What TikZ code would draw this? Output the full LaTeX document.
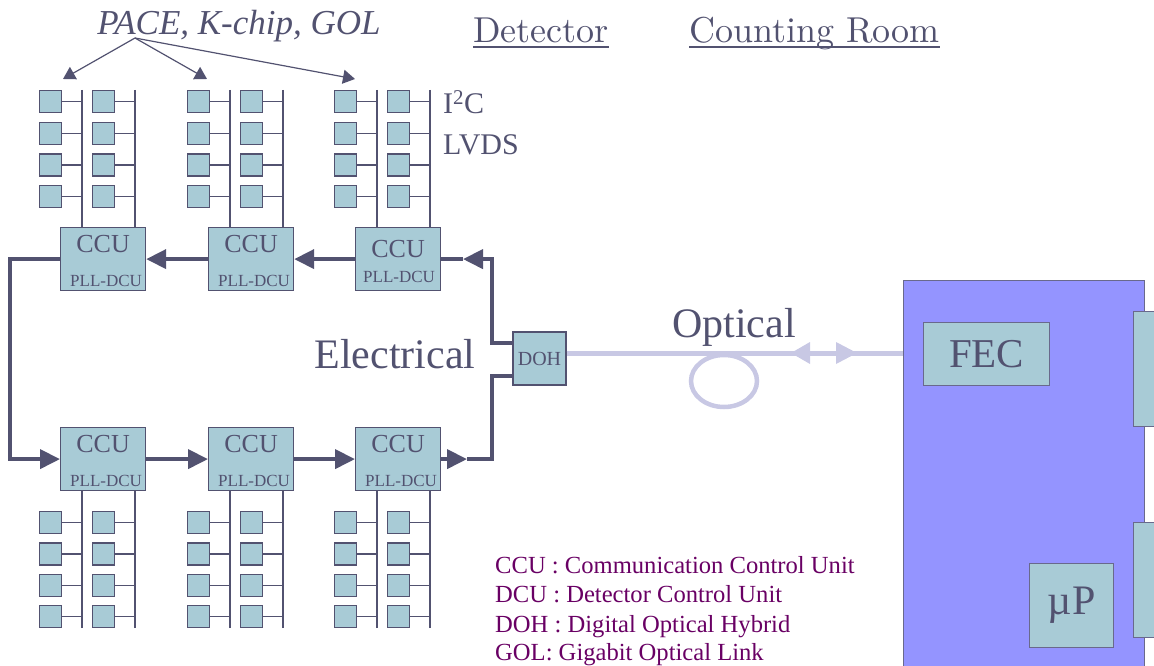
\documentclass[tikz,border=0pt]{standalone}
\usepackage{fontspec}
\newfontfamily\tnr{Liberation Serif}
\newfontfamily\lmten{lmroman10-regular.otf}
\usetikzlibrary{arrows.meta}
\definecolor{ink}{RGB}{82,82,112}
\definecolor{boxfill}{RGB}{168,203,214}
\definecolor{optic}{RGB}{200,200,228}
\definecolor{cratefill}{RGB}{148,148,255}
\definecolor{cratedraw}{RGB}{105,105,140}
\definecolor{legend}{RGB}{105,0,100}
\newcommand{\fsz}[1]{\fontsize{#1}{#1}\selectfont}
\begin{document}
\begin{tikzpicture}[x=1pt,y=-1pt,
  chip/.style={draw=ink, line width=1.2pt, fill=boxfill, minimum size=22pt, inner sep=0pt, anchor=north west},
  ccubox/.style={draw=ink, line width=1.2pt, fill=boxfill, minimum width=85pt, minimum height=63pt, inner sep=0pt, anchor=north west},
  bus/.style={draw=ink, line width=1.2pt},
  ring/.style={draw=ink, line width=4pt},
  tip/.style={-{Triangle[length=20pt,width=19pt]}},
  ptr/.style={draw=ink, line width=1.2pt, -{Triangle[length=12pt,width=14pt]}},
  txt/.style={text=ink, inner sep=0pt},
  lg/.style={text=legend, inner sep=0pt, anchor=base west, font=\tnr\fsz{24.6}},
  opt/.style={draw=optic, line width=5pt}
]
\useasboundingbox (0,0) rectangle (1154,666);

% CCU boxes
\foreach \i/\L/\T in {1/60/227, 2/208/227, 3/355/227, 4/60/427, 5/208/427, 6/355/427}
  \node[ccubox] (ccu\i) at (\L,\T) {};
\foreach \i in {1,2,4,5,6} {
  \node[txt, anchor=base, font=\tnr\fsz{26}] (ct\i) at ([yshift=-25pt]ccu\i.north) {CCU};
  \node[txt, anchor=base, font=\tnr\fsz{17}] (cp\i) at ([yshift=-59pt,xshift=3pt]ccu\i.north) {PLL-DCU};
}
\node[txt, anchor=base, font=\tnr\fsz{26}] (ct3) at ([yshift=-30pt]ccu3.north) {CCU};
\node[txt, anchor=base, font=\tnr\fsz{17}] (cp3) at ([yshift=-55pt,xshift=1pt]ccu3.north) {PLL-DCU};

% top chip groups
\foreach \g/\L in {1/60, 2/208, 3/355} {
  \coordinate (busA\g) at ({\L+22},90);
  \coordinate (busB\g) at ({\L+75},90);
  \draw[bus] (busA\g) -- (busA\g |- ccu\g.north);
  \draw[bus] (busB\g) -- (busB\g |- ccu\g.north);
  \foreach \r in {1,2,3,4} {
    \pgfmathsetmacro\yy{90+(\r-1)*31.7}
    \node[chip] (ta\g\r) at ({\L-21.5},\yy) {};
    \node[chip] (tb\g\r) at ({\L+31.5},\yy) {};
    \draw[bus] (ta\g\r.east) -- (ta\g\r.east -| busA\g);
    \draw[bus] (tb\g\r.east) -- (tb\g\r.east -| busB\g);
  }
}
% bottom chip groups
\foreach \g/\L in {4/60, 5/208, 6/355} {
  \coordinate (busA\g) at ({\L+22},628);
  \coordinate (busB\g) at ({\L+75},628);
  \draw[bus] (busA\g) -- (busA\g |- ccu\g.south);
  \draw[bus] (busB\g) -- (busB\g |- ccu\g.south);
  \foreach \r in {1,2,3,4} {
    \pgfmathsetmacro\yy{511+(\r-1)*31.3}
    \node[chip] (ba\g\r) at ({\L-21.5},\yy) {};
    \node[chip] (bb\g\r) at ({\L+31.5},\yy) {};
    \draw[bus] (ba\g\r.east) -- (ba\g\r.east -| busA\g);
    \draw[bus] (bb\g\r.east) -- (bb\g\r.east -| busB\g);
  }
}

% DOH
\node[draw=ink, line width=1.2pt, fill=boxfill, minimum size=53pt, inner sep=0pt, text=ink, font=\tnr\fsz{20}] (doh) at (539.5,358.5) {DOH};

% ring connectors
\coordinate (lc) at (10,0);
\coordinate (rc) at (492,0);
\coordinate (tipA) at (463,0);
\coordinate (tipB) at (467,0);
\coordinate (dohup) at ([yshift=15.5pt]doh.west);
\coordinate (dohlow) at ([yshift=-17.5pt]doh.west);
\draw[ring,tip] (ccu3.west) -- (ccu2.east);
\draw[ring,tip] (ccu2.west) -- (ccu1.east);
\draw[ring,tip] (ccu1.west) -- (lc |- ccu1.west) -- (lc |- ccu4.west) -- (ccu4.west);
\draw[ring,tip] (ccu4.east) -- (ccu5.west);
\draw[ring,tip] (ccu5.east) -- (ccu6.west);
\draw[ring,tip] (ccu6.east) -- (ccu6.east -| tipB);
\draw[ring] (ccu6.east -| tipB) -- (ccu6.east -| rc) -- (rc |- dohlow) -- (dohlow);
\draw[ring,tip] (dohup) -- (dohup -| rc) -- (rc |- ccu3.east) -- (ccu3.east -| tipA);
\draw[ring] (ccu3.east -| tipA) -- (ccu3.east);

% counting room crate
\node[draw=cratedraw, line width=1.2pt, fill=cratefill, anchor=north west, minimum width=241pt, minimum height=400pt, inner sep=0pt] (crate) at (903,280) {};
\node[draw=cratedraw, line width=1.2pt, fill=boxfill, anchor=north west, minimum width=30pt, minimum height=115pt, inner sep=0pt] (tab1) at (1133,311) {};
\node[draw=cratedraw, line width=1.2pt, fill=boxfill, anchor=north west, minimum width=30pt, minimum height=115pt, inner sep=0pt] (tab2) at (1133,522) {};
\node[draw=cratedraw, line width=1.2pt, fill=boxfill, anchor=north west, minimum width=126pt, minimum height=63pt, inner sep=0pt, text=ink, font=\tnr\fsz{41}] (fec) at (923,322) {FEC};
\node[draw=cratedraw, line width=1.2pt, fill=boxfill, anchor=north west, minimum width=84pt, minimum height=84pt, inner sep=0pt, text=ink, font=\tnr\fsz{42}] (up) at (1029,563) {µP};

% optical link
\coordinate (optL) at ([yshift=5.5pt]doh.east);
\draw[opt] (optL) -- (optL -| crate.west);
\draw[opt, line width=4.5pt] (724,381) ellipse [x radius=33pt, y radius=26pt];
\fill[optic] (791,353) -- (810,342) -- (810,364) -- cycle;
\fill[optic] (857,353) -- (836,342) -- (836,364) -- cycle;

% labels
\node[txt, anchor=base, font=\tnr\fsz{42}] (optlab) at (734,337) {Optical};
\node[txt, anchor=base, font=\tnr\fsz{42}] (elab) at (395,368) {Electrical};
\node[txt, anchor=base west, font=\tnr\fsz{30}] (i2c) at (443,114) {I\textsuperscript{2}C};
\node[txt, anchor=base west, font=\tnr\fsz{30}] (lvds) at (443,154) {LVDS};

\node[txt, anchor=base west, font=\lmten\fsz{36}] (det) at (473,43) {Detector};
\node[txt, anchor=base west, font=\lmten\fsz{36}] (cr) at (689,43) {Counting Room};
\draw[ink, line width=1.6pt] ([yshift=-4pt]det.base west) -- ([yshift=-4pt]det.base east);
\draw[ink, line width=1.6pt] ([yshift=-4pt]cr.base west) -- ([yshift=-4pt]cr.base east);

\node[txt, anchor=base, font=\tnr\itshape\fsz{35}] (pace) at (239,35) {PACE, K-chip, GOL};
\coordinate (src) at (135,38);
\coordinate (p1) at (63,79);
\coordinate (p2) at (207,79);
\coordinate (p3) at (355,79);
\draw[ptr] (src) -- (p1);
\draw[ptr] (src) -- (p2);
\draw[ptr] (src) -- (p3);

% legend
\node[lg] (l1) at (495,573) {CCU : Communication Control Unit};
\node[lg] (l2) at (495,602) {DCU : Detector Control Unit};
\node[lg] (l3) at (495,632) {DOH : Digital Optical Hybrid};
\node[lg] (l4) at (495,660) {GOL: Gigabit Optical Link};
\end{tikzpicture}
\end{document}
